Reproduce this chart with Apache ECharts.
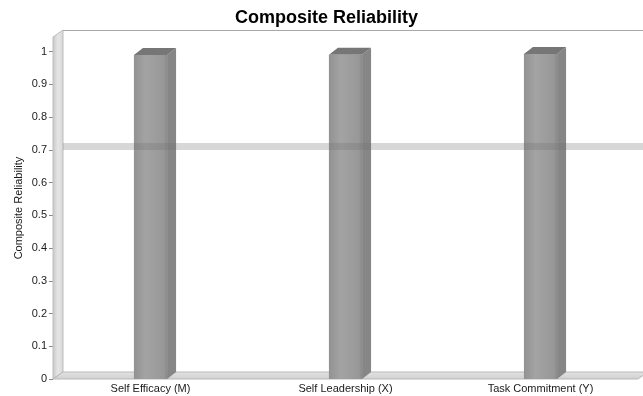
<!DOCTYPE html>
<html>
<head>
<meta charset="utf-8">
<script src="https://cdn.jsdelivr.net/npm/echarts@6/dist/echarts.min.js"></script>
<style>
  html, body { margin: 0; padding: 0; background: #ffffff; }
  #chart { width: 643px; height: 396px; }
</style>
</head>
<body>
<div id="chart"></div>
<script>
// Composite reliability per construct
const categories = ['Self Efficacy (M)', 'Self Leadership (X)', 'Task Commitment (Y)'];
const reliability = [0.990, 0.991, 0.993];
// Recommended minimum for composite reliability
const threshold = [0.7];
// Value axis range and step
const yMin = 0;
const yMax = 1.045;
const yStep = 0.1;

// Depth of the pseudo-3D box and bars, in pixels
const DEPTH_X = 9;
const DEPTH_Y = 7;
const WALL_X = 10;

const FONT = '"Liberation Sans", Arial, sans-serif';

const chart = echarts.init(document.getElementById('chart'), null, { renderer: 'canvas' });

// Left wall, floor and back-frame edge of the box
function renderBox(params, api) {
  const cs = params.coordSys;
  const left = cs.x, top = cs.y, bottom = cs.y + cs.height, right = cs.x + cs.width;
  return {
    type: 'group',
    children: [
      {
        type: 'polygon',
        shape: { points: [[left, top], [left + WALL_X, top - DEPTH_Y], [left + WALL_X, bottom - DEPTH_Y], [left, bottom]] },
        style: {
          fill: { type: 'linear', x: 0, y: 0, x2: 1, y2: 0,
            colorStops: [{ offset: 0, color: '#c6c6c6' }, { offset: 0.5, color: '#e6e6e6' }, { offset: 1, color: '#d6d6d6' }] },
          stroke: '#bdbdbd', lineWidth: 1
        }
      },
      {
        type: 'polygon',
        shape: { points: [[left, bottom], [left + WALL_X, bottom - DEPTH_Y], [right + 10, bottom - DEPTH_Y], [right, bottom]] },
        style: {
          fill: { type: 'linear', x: 0, y: 0, x2: 0, y2: 1,
            colorStops: [{ offset: 0, color: '#e4e4e4' }, { offset: 1, color: '#cfcfcf' }] },
          stroke: '#b8b8b8', lineWidth: 1
        }
      },
      {
        type: 'line',
        shape: { x1: left + WALL_X, y1: top - DEPTH_Y + 0.5, x2: right + 10, y2: top - DEPTH_Y + 0.5 },
        style: { stroke: '#a8a8a8', lineWidth: 1 }
      }
    ]
  };
}

// Extruded bar: front face, right side and top face
function renderBar(params, api) {
  const idx = api.value(0);
  const val = api.value(1);
  const topPt = api.coord([idx, val]);
  const basePt = api.coord([idx, 0]);
  const band = api.size([1, 0])[0];
  const w = band * 0.17;
  const l = topPt[0] - w / 2;
  const r = l + w;
  const t = topPt[1];
  const b = basePt[1];
  return {
    type: 'group',
    children: [
      {
        type: 'polygon',
        shape: { points: [[r, t], [r + DEPTH_X, t - DEPTH_Y], [r + DEPTH_X, b - DEPTH_Y], [r, b]] },
        style: { fill: '#868686' }
      },
      {
        type: 'polygon',
        shape: { points: [[l, t], [l + DEPTH_X, t - DEPTH_Y], [r + DEPTH_X, t - DEPTH_Y], [r, t]] },
        style: { fill: '#767676' }
      },
      {
        type: 'rect',
        shape: { x: l, y: t, width: w, height: b - t },
        style: {
          fill: { type: 'linear', x: 0, y: 0, x2: 1, y2: 0,
            colorStops: [{ offset: 0, color: '#929292' }, { offset: 0.35, color: '#a3a3a3' }, { offset: 0.9, color: '#989898' }, { offset: 1, color: '#8a8a8a' }] }
        }
      }
    ]
  };
}

// Threshold band drawn mid-depth across the box
function renderThreshold(params, api) {
  const cs = params.coordSys;
  const y = api.coord([0, api.value(1)])[1] - DEPTH_Y / 2;
  return {
    type: 'rect',
    shape: { x: cs.x + WALL_X, y: y - 3.5, width: cs.width + 10 - WALL_X, height: 7 },
    style: { fill: 'rgba(110,110,110,0.28)' }
  };
}

chart.setOption({
  backgroundColor: '#ffffff',
  animation: false,
  title: {
    text: 'Composite Reliability',
    left: 230,
    top: 4,
    textStyle: { fontFamily: FONT, fontSize: 18, fontWeight: 'bold', color: '#000000' }
  },
  grid: { left: 53, right: 5, top: 37, bottom: 17, containLabel: false },
  xAxis: {
    type: 'category',
    data: categories,
    axisLine: { show: false },
    axisTick: { show: false },
    splitLine: { show: false },
    axisLabel: { margin: 4, fontFamily: FONT, fontSize: 11, color: '#1a1a1a', interval: 0 }
  },
  yAxis: {
    type: 'value',
    min: yMin,
    max: yMax,
    interval: yStep,
    name: 'Composite Reliability',
    nameLocation: 'middle',
    nameGap: 29,
    nameMoveOverlap: false,
    nameTextStyle: { fontFamily: FONT, fontSize: 11, color: '#1a1a1a' },
    axisLine: { show: false },
    axisTick: { show: true, length: 4, lineStyle: { color: '#888888' } },
    splitLine: { show: false },
    axisLabel: {
      margin: 6, fontFamily: FONT, fontSize: 11, color: '#1a1a1a',
      showMaxLabel: false,
      formatter: v => (v > 1.0001 ? '' : String(Math.round(v * 10) / 10))
    }
  },
  series: [
    {
      type: 'custom',
      z: 1,
      renderItem: renderBox,
      data: [[0, 0]],
      encode: { x: 0, y: 1 },
      silent: true
    },
    {
      type: 'custom',
      z: 2,
      renderItem: renderBar,
      data: reliability.map((v, i) => [i, v]),
      encode: { x: 0, y: 1 }
    },
    {
      type: 'custom',
      z: 3,
      renderItem: renderThreshold,
      data: threshold.map(v => [0, v]),
      encode: { x: 0, y: 1 },
      silent: true
    }
  ]
});
</script>
</body>
</html>
